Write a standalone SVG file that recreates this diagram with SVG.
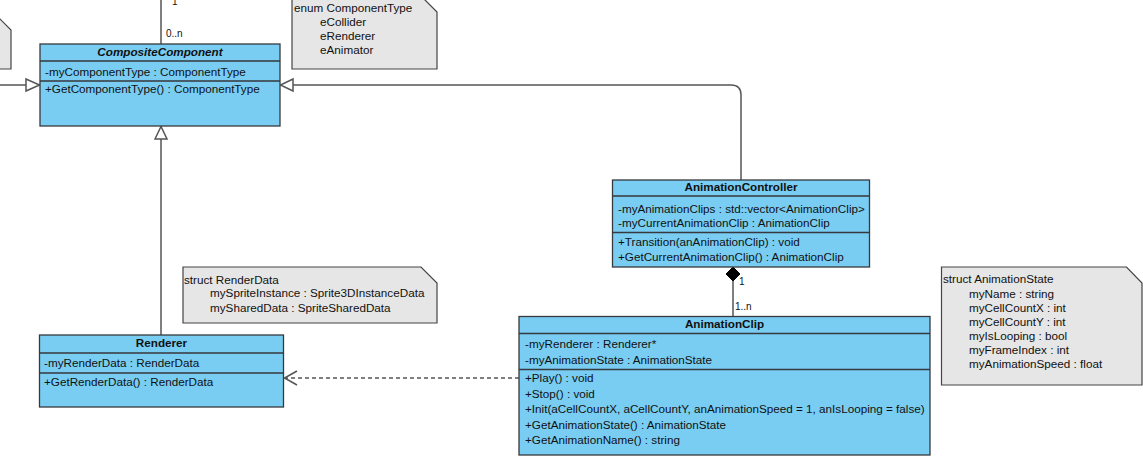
<svg xmlns="http://www.w3.org/2000/svg" width="1143" height="457" viewBox="0 0 1143 457">
<style>
text{font-family:"Liberation Sans",Arial,sans-serif;font-size:11.7px;fill:#111}
.cls{fill:#79cdf3;stroke:#36393d;stroke-width:1.3}
.sep{stroke:#36393d;stroke-width:1.3;fill:none}
.title{font-weight:bold;text-anchor:middle}
.note{fill:#e6e6e6;stroke:#444;stroke-width:1.2}
.edge{fill:none;stroke:#555;stroke-width:1.5}
.lbl{font-size:10px}
</style>
<rect width="1143" height="457" fill="#fff"/>
<g id="connectors">
  <path class="edge" d="M161 0 V44"/>
  <text class="lbl" x="172" y="5">1</text>
  <text class="lbl" x="166" y="37">0..n</text>
  <path class="edge" d="M0 85 H26"/>
  <path class="edge" d="M26 79 L39.5 85 L26 91 Z" fill="#fff"/>
  <path class="edge" d="M293 85 H731 Q741 85 741 95 V180"/>
  <path class="edge" d="M293 79 L280.5 85 L293 91 Z" fill="#fff"/>
  <path class="edge" d="M161 335 V139"/>
  <path class="edge" d="M155 139 L161 126.5 L167 139 Z" fill="#fff"/>
  <path class="edge" d="M733 281 V316"/>
  <path d="M733 267 L740 274 L733 281 L726 274 Z" fill="#000" stroke="#000" stroke-width="1"/>
  <text class="lbl" x="739" y="285">1</text>
  <text class="lbl" x="735" y="310">1..n</text>
  <path class="edge" d="M519 378 H285" stroke-dasharray="4 3"/>
  <path class="edge" d="M297 371 L284.5 378 L297 385"/>
</g>
<g id="note-left">
  <path class="note" d="M-100 18 H-1 L11 30 V69 H-100 Z"/>
</g>
<g id="note-componenttype">
  <path class="note" d="M292 -2 H423 L437 12 V69 H292 Z"/>
  <text x="294" y="12">enum ComponentType</text>
  <text x="320" y="26">eCollider</text>
  <text x="320" y="40">eRenderer</text>
  <text x="320" y="54">eAnimator</text>
</g>
<g id="CompositeComponent">
  <rect class="cls" x="40" y="44" width="240" height="82"/>
  <path class="sep" d="M40 61 H280 M40 81 H280"/>
  <text class="title" x="160" y="56" font-style="italic">CompositeComponent</text>
  <text x="45" y="76">-myComponentType : ComponentType</text>
  <text x="45" y="93">+GetComponentType() : ComponentType</text>
</g>
<g id="note-renderdata">
  <path class="note" d="M183 267 H421 L437 283 V323 H183 Z"/>
  <text x="184" y="284">struct RenderData</text>
  <text x="210" y="297">mySpriteInstance : Sprite3DInstanceData</text>
  <text x="210" y="312">mySharedData : SpriteSharedData</text>
</g>
<g id="Renderer">
  <rect class="cls" x="39.5" y="335" width="244" height="72"/>
  <path class="sep" d="M39.5 353 H283.5 M39.5 373 H283.5"/>
  <text class="title" x="161.5" y="347">Renderer</text>
  <text x="44" y="367">-myRenderData : RenderData</text>
  <text x="44" y="386">+GetRenderData() : RenderData</text>
</g>
<g id="AnimationController">
  <rect class="cls" x="612.5" y="180" width="257" height="87"/>
  <path class="sep" d="M612.5 196 H869.5 M612.5 232.5 H869.5"/>
  <text class="title" x="741" y="191">AnimationController</text>
  <text x="618" y="213">-myAnimationClips : std::vector&lt;AnimationClip&gt;</text>
  <text x="618" y="227">-myCurrentAnimationClip : AnimationClip</text>
  <text x="618" y="246">+Transition(anAnimationClip) : void</text>
  <text x="618" y="261">+GetCurrentAnimationClip() : AnimationClip</text>
</g>
<g id="AnimationClip">
  <rect class="cls" x="519" y="316.5" width="411" height="138.5"/>
  <path class="sep" d="M519 333.5 H930 M519 369.5 H930"/>
  <text class="title" x="724.5" y="328">AnimationClip</text>
  <text x="525" y="348">-myRenderer : Renderer*</text>
  <text x="525" y="364">-myAnimationState : AnimationState</text>
  <text x="525" y="382">+Play() : void</text>
  <text x="525" y="397.5">+Stop() : void</text>
  <text x="525" y="413">+Init(aCellCountX, aCellCountY, anAnimationSpeed = 1, anIsLooping = false)</text>
  <text x="525" y="428.5">+GetAnimationState() : AnimationState</text>
  <text x="525" y="444">+GetAnimationName() : string</text>
</g>
<g id="note-animationstate">
  <path class="note" d="M941.5 267 H1126.5 L1142 283 V385 H941.5 Z"/>
  <text x="943" y="283">struct AnimationState</text>
  <text x="969" y="297.5">myName : string</text>
  <text x="969" y="311.5">myCellCountX : int</text>
  <text x="969" y="326">myCellCountY : int</text>
  <text x="969" y="340">myIsLooping : bool</text>
  <text x="969" y="354">myFrameIndex : int</text>
  <text x="969" y="368">myAnimationSpeed : float</text>
</g>
</svg>
